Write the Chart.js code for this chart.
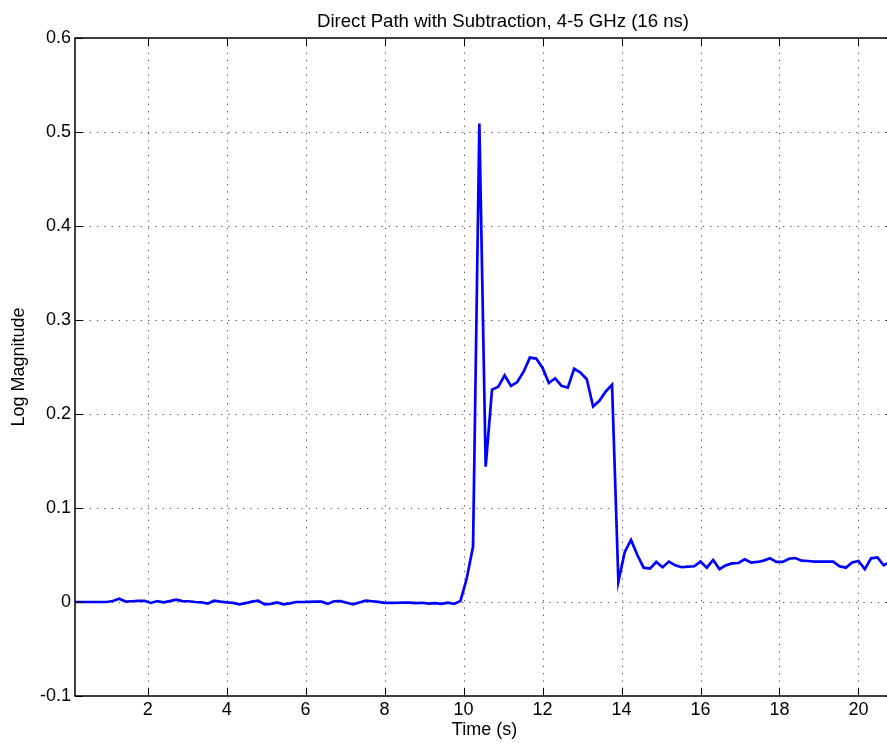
<!DOCTYPE html>
<html>
<head>
<meta charset="utf-8">
<script src="https://cdn.jsdelivr.net/npm/chart.js@4.4.1/dist/chart.umd.min.js"></script>
<style>
    html, body { margin: 0; padding: 0; overflow: hidden; background: #fff; }
</style>
</head>
<body>
<canvas id="grafico-pulso" width="900" height="743"></canvas>
<script>
// dados
const tempos = [
    0.16, 0.32, 0.48, 0.64, 0.80, 0.96, 1.12, 1.28, 1.44, 1.60,
    1.76, 1.92, 2.08, 2.24, 2.40, 2.56, 2.72, 2.88, 3.04, 3.20,
    3.36, 3.52, 3.68, 3.84, 4.00, 4.16, 4.32, 4.48, 4.64, 4.80,
    4.96, 5.12, 5.28, 5.44, 5.60, 5.76, 5.92, 6.08, 6.24, 6.40,
    6.56, 6.72, 6.88, 7.04, 7.20, 7.36, 7.52, 7.68, 7.84, 8.00,
    8.16, 8.32, 8.48, 8.64, 8.80, 8.96, 9.12, 9.28, 9.44, 9.60,
    9.76, 9.92, 10.08, 10.24, 10.40, 10.56, 10.72, 10.88, 11.04, 11.20,
    11.36, 11.52, 11.68, 11.84, 12.00, 12.16, 12.32, 12.48, 12.64, 12.80,
    12.96, 13.12, 13.28, 13.44, 13.60, 13.76, 13.92, 14.08, 14.24, 14.40,
    14.56, 14.72, 14.88, 15.04, 15.20, 15.36, 15.52, 15.68, 15.84, 16.00,
    16.16, 16.32, 16.48, 16.64, 16.80, 16.96, 17.12, 17.28, 17.44, 17.60,
    17.76, 17.92, 18.08, 18.24, 18.40, 18.56, 18.72, 18.88, 19.04, 19.20,
    19.36, 19.52, 19.68, 19.84, 20.00, 20.16, 20.32, 20.48, 20.64, 20.80
];

const magnitude = [
    0, 0, 0, 0, 0, 0, 0.001, 0.0035, 0.0005, 0.0008,
    0.0012, 0.0013, -0.001, 0.001, -0.0004, 0.001, 0.0025, 0.001, 0.0008, 0,
    -0.0003, -0.0018, 0.0014, 0.0004, -0.0004, -0.001, -0.0025, -0.0012, 0.0004, 0.0014,
    -0.0025, -0.002, -0.0005, -0.0025, -0.0015, 0, 0, 0.0002, 0.0003, 0.0004,
    -0.002, 0.0008, 0.0009, -0.0008, -0.0025, -0.0005, 0.0014, 0.0008, 0.0002, -0.001,
    -0.001, -0.0008, -0.0007, -0.0007, -0.0012, -0.0008, -0.0018, -0.0012, -0.002, -0.0007,
    -0.002, 0.001, 0.025, 0.059, 0.509, 0.144, 0.226, 0.229, 0.241, 0.230,
    0.234, 0.245, 0.260, 0.259, 0.249, 0.233, 0.238, 0.230, 0.228, 0.248,
    0.244, 0.237, 0.208, 0.214, 0.224, 0.231, 0.0216, 0.053, 0.066, 0.050,
    0.0365, 0.0355, 0.0426, 0.037, 0.043, 0.039, 0.037, 0.0376, 0.038, 0.043,
    0.0365, 0.0447, 0.035, 0.039, 0.041, 0.0415, 0.0454, 0.042, 0.0426, 0.044,
    0.0465, 0.0426, 0.0426, 0.046, 0.0468, 0.044, 0.0436, 0.043, 0.043, 0.043,
    0.043, 0.038, 0.0365, 0.042, 0.0436, 0.035, 0.0465, 0.0475, 0.039, 0.043
];

const ticksX = [2, 4, 6, 8, 10, 12, 14, 16, 18, 20];
const ticksY = [-0.1, 0, 0.1, 0.2, 0.3, 0.4, 0.5, 0.6];
const labelsY = ['-0.1', '0', '0.1', '0.2', '0.3', '0.4', '0.5', '0.6'];

const fonte = "'Liberation Sans', Arial, Helvetica, sans-serif";

// grade pontilhada, moldura e ticks para dentro (estilo matlab)
const moldura = {
    id: 'moldura',
    beforeDatasetsDraw(chart) {
        const ctx = chart.ctx;
        const a = chart.chartArea;
        const sx = chart.scales.x;
        const sy = chart.scales.y;
        ctx.save();
        ctx.strokeStyle = '#555';
        ctx.lineWidth = 1;
        ctx.setLineDash([1.3, 6]);
        ticksX.forEach(function (v) {
            const px = Math.round(sx.getPixelForValue(v)) + 0.5;
            ctx.beginPath();
            ctx.moveTo(px, a.top);
            ctx.lineTo(px, a.bottom);
            ctx.stroke();
        });
        ticksY.forEach(function (v) {
            const py = Math.round(sy.getPixelForValue(v)) + 0.5;
            if (py < a.top + 2 || py > a.bottom - 2) return;
            ctx.beginPath();
            ctx.moveTo(a.left, py);
            ctx.lineTo(a.right, py);
            ctx.stroke();
        });
        ctx.restore();
    },
    afterDatasetsDraw(chart) {
        const ctx = chart.ctx;
        const a = chart.chartArea;
        const sx = chart.scales.x;
        const sy = chart.scales.y;
        ctx.save();
        ctx.strokeStyle = '#000';
        ctx.lineWidth = 1.5;
        ctx.strokeRect(a.left, a.top, a.right - a.left, a.bottom - a.top);
        ctx.lineWidth = 1;
        ticksX.forEach(function (v) {
            const px = Math.round(sx.getPixelForValue(v)) + 0.5;
            ctx.beginPath();
            ctx.moveTo(px, a.bottom);
            ctx.lineTo(px, a.bottom - 8);
            ctx.moveTo(px, a.top);
            ctx.lineTo(px, a.top + 8);
            ctx.stroke();
        });
        ticksY.forEach(function (v) {
            const py = Math.round(sy.getPixelForValue(v)) + 0.5;
            ctx.beginPath();
            ctx.moveTo(a.left, py);
            ctx.lineTo(a.left + 8, py);
            ctx.moveTo(a.right, py);
            ctx.lineTo(a.right - 8, py);
            ctx.stroke();
        });
        // titulo centrado como no original
        ctx.fillStyle = '#000';
        ctx.font = '18.6px ' + fonte;
        ctx.textAlign = 'center';
        ctx.textBaseline = 'alphabetic';
        ctx.fillText('Direct Path with Subtraction, 4-5 GHz (16 ns)', 503, 27);
        ctx.restore();
    }
};

const ctx = document.getElementById('grafico-pulso').getContext('2d');

const graficoPulso = new Chart(ctx, {
    type: 'line',
    data: {
        datasets: [{
            label: 'Direct Path',
            data: tempos.map(function (t, i) { return { x: t, y: magnitude[i] }; }),
            borderColor: '#0000ff',
            borderWidth: 2.7,
            pointRadius: 0,
            tension: 0,
            fill: false
        }]
    },
    options: {
        responsive: false,
        animation: false,
        layout: {
            padding: { top: 38, right: 6, left: 0, bottom: 0 }
        },
        scales: {
            x: {
                type: 'linear',
                min: 0.16,
                max: 20.9,
                afterFit: function (scale) { scale.height = 47; },
                afterBuildTicks: function (scale) {
                    scale.ticks = ticksX.map(function (v) { return { value: v }; });
                },
                grid: { display: false, drawTicks: false },
                border: { display: false },
                ticks: {
                    padding: 3,
                    color: '#000',
                    maxRotation: 0,
                    autoSkip: false,
                    font: { family: fonte, size: 18 },
                    callback: function (v) { return String(v); }
                },
                title: {
                    display: true,
                    text: 'Time (s)',
                    color: '#000',
                    font: { family: fonte, size: 18 },
                    padding: { top: 0, bottom: 2 }
                }
            },
            y: {
                min: -0.1,
                max: 0.6,
                afterFit: function (scale) { scale.width = 75; },
                afterBuildTicks: function (scale) {
                    scale.ticks = ticksY.map(function (v) { return { value: v }; });
                },
                grid: { display: false, drawTicks: false },
                border: { display: false },
                ticks: {
                    padding: 4,
                    color: '#000',
                    autoSkip: false,
                    font: { family: fonte, size: 18 },
                    callback: function (v, i) { return labelsY[i]; }
                },
                title: {
                    display: true,
                    text: 'Log Magnitude',
                    color: '#000',
                    font: { family: fonte, size: 18 },
                    padding: { top: 8, bottom: 0 }
                }
            }
        },
        plugins: {
            legend: { display: false },
            tooltip: { enabled: false }
        }
    },
    plugins: [moldura]
});
</script>
</body>
</html>
